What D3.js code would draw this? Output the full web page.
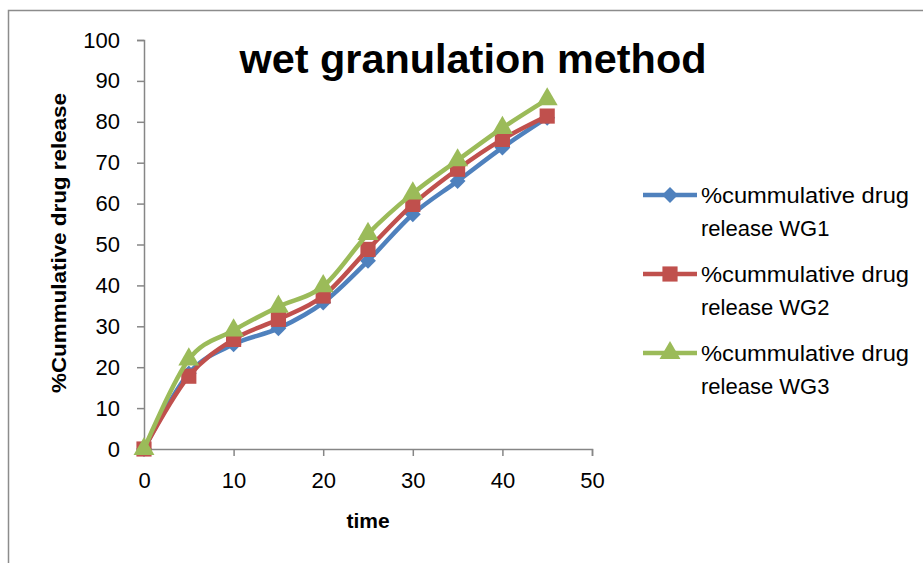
<!DOCTYPE html>
<html>
<head>
<meta charset="utf-8">
<script src="https://d3js.org/d3.v7.min.js"></script>
<style>
  body { margin: 0; background: #fff; }
  svg { display: block; font-family: 'Liberation Sans', Arial, sans-serif; }
  .axis path, .axis line { stroke: #868686; stroke-width: 1.5; }
  .axis text { font-size: 22px; fill: #000; }
</style>
</head>
<body>
<svg width="923" height="563"></svg>
<script>
// Zeitpunkte (x) und Freisetzung pro Formulierung
var time = [0, 5, 10, 15, 20, 25, 30, 35, 40, 45];
var wg1 = [0, 18.5, 25.6, 29.5, 35.8, 46.0, 57.4, 65.5, 73.7, 81.0];
var wg2 = [0, 17.8, 26.8, 31.7, 37.4, 48.8, 59.8, 68.4, 75.7, 81.4];
var wg3 = [0, 21.9, 29.0, 34.8, 39.8, 52.6, 62.5, 70.6, 78.5, 85.5];
var seriesNames = ["%cummulative drug release WG1", "%cummulative drug release WG2", "%cummulative drug release WG3"];
var xTicks = [0, 10, 20, 30, 40, 50];
var yTicks = [0, 10, 20, 30, 40, 50, 60, 70, 80, 90, 100];

var colors = ["#4F81BD", "#C0504D", "#9BBB59"];
var symbols = [d3.symbolDiamond2, d3.symbolSquare, d3.symbolTriangle];
var symSize = [160, 230, 190];

var svg = d3.select("svg");

// Rahmen
svg.append("rect")
    .attr("x", 8.5).attr("y", 10.5)
    .attr("width", 1000).attr("height", 1000)
    .attr("fill", "none").attr("stroke", "#8c8c8c").attr("stroke-width", 1.5);

var x = d3.scaleLinear().domain([0, 50]).range([144, 592]);
var y = d3.scaleLinear().domain([0, 100]).range([449, 40]);

svg.append("g")
    .attr("class", "axis")
    .attr("transform", "translate(0,449)")
    .call(d3.axisBottom(x).tickValues(xTicks).tickSizeOuter(0).tickSize(7).tickPadding(16));

svg.append("g")
    .attr("class", "axis")
    .attr("transform", "translate(144,0)")
    .call(d3.axisLeft(y).tickValues(yTicks).tickSizeOuter(0).tickSize(7).tickPadding(17));

// Titel
svg.append("text")
    .attr("x", 473).attr("y", 73)
    .attr("text-anchor", "middle")
    .attr("font-size", 40).attr("font-weight", "bold")
    .attr("textLength", 467).attr("lengthAdjust", "spacingAndGlyphs")
    .text("wet granulation method");

// Achsentitel
svg.append("text")
    .attr("transform", "translate(66,243) rotate(-90)")
    .attr("text-anchor", "middle")
    .attr("font-size", 20).attr("font-weight", "bold")
    .attr("textLength", 300).attr("lengthAdjust", "spacingAndGlyphs")
    .text("%Cummulative drug release");

svg.append("text")
    .attr("x", 368).attr("y", 528)
    .attr("text-anchor", "middle")
    .attr("font-size", 21).attr("font-weight", "bold")
    .text("time");

var line = d3.line()
    .x(function (d) { return x(d.t); })
    .y(function (d) { return y(d.v); })
    .curve(d3.curveCatmullRom.alpha(0));

[wg1, wg2, wg3].forEach(function (vals, i) {
    var pts = time.map(function (t, j) { return { t: t, v: vals[j] }; });

    svg.append("path")
        .datum(pts)
        .attr("d", line)
        .attr("fill", "none")
        .attr("stroke", colors[i])
        .attr("stroke-width", 4.5)
        .attr("stroke-linejoin", "round");

    svg.selectAll(".m" + i)
        .data(pts)
        .enter().append("path")
        .attr("class", "m" + i)
        .attr("transform", function (d) { return "translate(" + x(d.t) + "," + y(d.v) + ")"; })
        .attr("d", d3.symbol().type(symbols[i]).size(symSize[i]))
        .attr("fill", colors[i]);
});

// Legende
var legend = svg.append("g");
seriesNames.forEach(function (name, i) {
    var cy = 195 + i * 79;
    legend.append("line")
        .attr("x1", 643).attr("x2", 697)
        .attr("y1", cy).attr("y2", cy)
        .attr("stroke", colors[i]).attr("stroke-width", 4.5);
    legend.append("path")
        .attr("transform", "translate(670," + cy + ")")
        .attr("d", d3.symbol().type(symbols[i]).size(symSize[i]))
        .attr("fill", colors[i]);
    var words = name.split(" ");
    var txt = legend.append("text")
        .attr("font-size", 22)
        .attr("x", 701);
    txt.append("tspan").attr("x", 701).attr("y", cy + 8)
        .attr("textLength", 208).attr("lengthAdjust", "spacingAndGlyphs")
        .text(words.slice(0, 2).join(" "));
    txt.append("tspan").attr("x", 701).attr("y", cy + 41)
        .text(words.slice(2).join(" "));
});
</script>
</body>
</html>
